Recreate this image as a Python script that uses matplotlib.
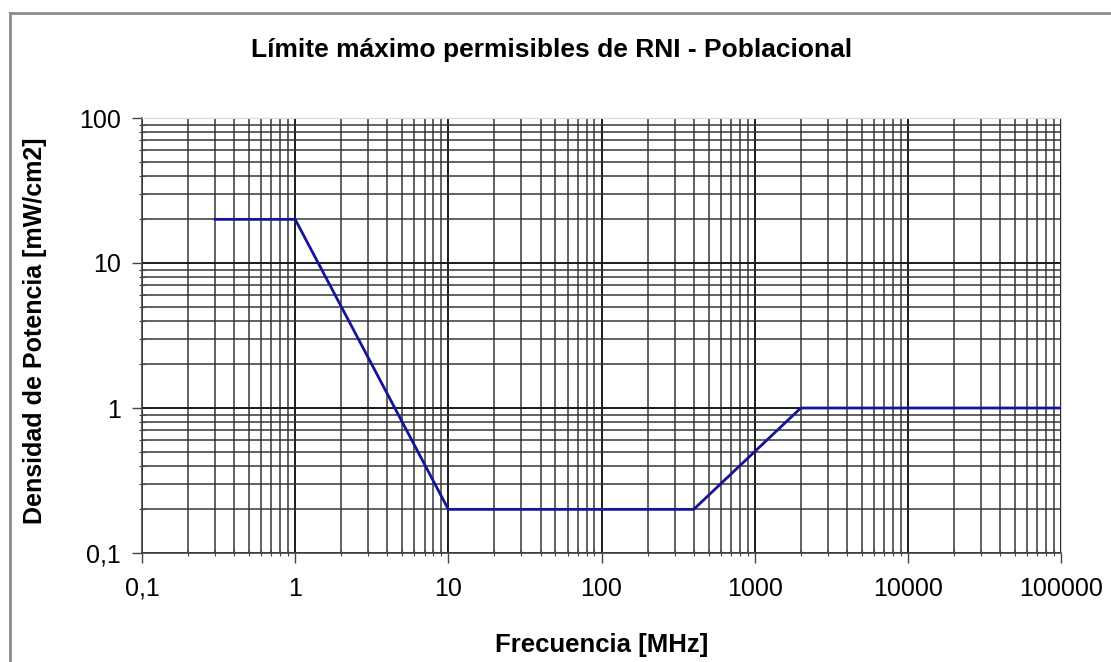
import numpy as np
import matplotlib
matplotlib.use('Agg')
import matplotlib.pyplot as plt
from matplotlib.ticker import FixedLocator, FixedFormatter, LogLocator, NullFormatter
from matplotlib.lines import Line2D

plt.rcParams['font.family'] = ['Liberation Sans', 'DejaVu Sans']

# limit curve breakpoints (frequency in MHz, density in mW/cm2)
freq = [0.3, 1, 10, 400, 2000, 100000]
dens = [20, 20, 0.2, 0.2, 1, 1]

xticks = [0.1, 1, 10, 100, 1000, 10000, 100000]
xticklabels = ['0,1', '1', '10', '100', '1000', '10000', '100000']
yticks = [0.1, 1, 10, 100]
yticklabels = ['0,1', '1', '10', '100']

W, H = 1111, 662
fig = plt.figure(figsize=(W/100, H/100), dpi=100)
ax = fig.add_axes([142/W, 1-553/H, (1061-142)/W, (553-118)/H])

ax.set_xscale('log'); ax.set_yscale('log')
ax.set_xlim(0.1, 100000); ax.set_ylim(0.1, 100)

ax.xaxis.set_major_locator(FixedLocator(xticks))
ax.xaxis.set_major_formatter(FixedFormatter(xticklabels))
ax.yaxis.set_major_locator(FixedLocator(yticks))
ax.yaxis.set_major_formatter(FixedFormatter(yticklabels))
ax.xaxis.set_minor_locator(LogLocator(base=10, subs=np.arange(2, 10), numticks=20))
ax.yaxis.set_minor_locator(LogLocator(base=10, subs=np.arange(2, 10), numticks=20))
ax.xaxis.set_minor_formatter(NullFormatter())
ax.yaxis.set_minor_formatter(NullFormatter())

ax.grid(which='major', color='#1a1a1a', linewidth=1.4)
ax.grid(which='minor', color='#333333', linewidth=1.2, alpha=0.9)
ax.set_axisbelow(True)

ax.plot(freq, dens, color='#14149a', linewidth=2.0, zorder=3)

for s in ['top', 'right']:
    ax.spines[s].set_color('#d8d8d8')
for s in ['left', 'bottom']:
    ax.spines[s].set_color('#444444')
    ax.spines[s].set_linewidth(1.2)

ax.tick_params(which='major', direction='out', length=7, width=1.0, color='#444444', labelsize=18)
ax.tick_params(which='minor', direction='inout', length=5, width=0.8, color='#444444')
ax.tick_params(axis='x', which='major', pad=10)
ax.tick_params(axis='y', which='major', pad=8)

ax.set_xlabel('Frecuencia [MHz]', fontsize=18.5, fontweight='bold')
ax.set_ylabel('Densidad de Potencia [mW/cm2]', fontsize=18, fontweight='bold')
ax.xaxis.set_label_coords((602-142)/(1061-142), -(633-553)/(553-118))
ax.yaxis.set_label_coords(-(142-47)/(1061-142), (553-331)/(553-118))

fig.text(552/W, 1-50/H, 'Límite máximo permisibles de RNI - Poblacional',
         fontsize=19, fontweight='bold', ha='center', va='center')

# chart area border (left and top edges visible)
fig.add_artist(Line2D([10/W, 10/W], [0, 1-13/H], color='#8c8c8c', linewidth=2))
fig.add_artist(Line2D([10/W, 1], [1-13/H, 1-13/H], color='#8c8c8c', linewidth=2))

fig.savefig('out.png', dpi=100)
